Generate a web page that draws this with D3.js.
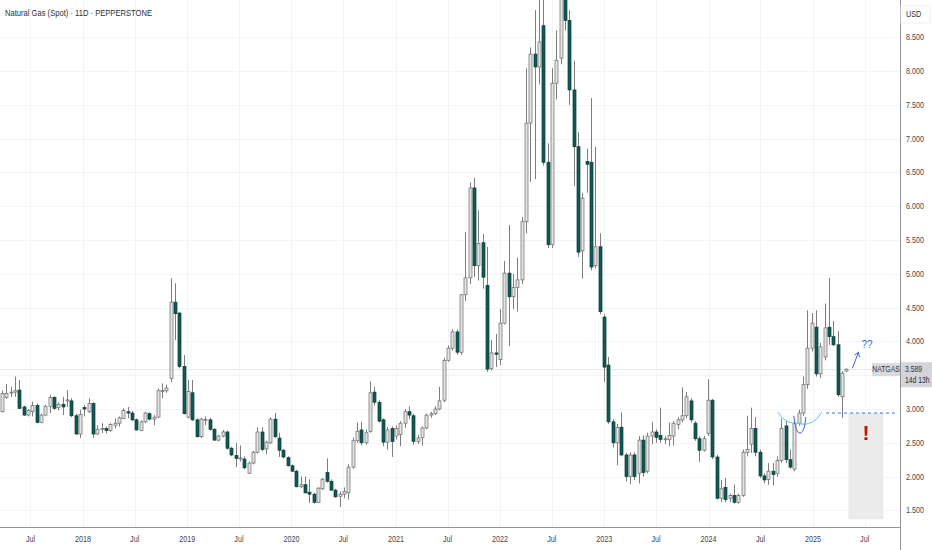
<!DOCTYPE html>
<html><head><meta charset="utf-8">
<script src="https://cdn.jsdelivr.net/npm/d3@7"></script>
<style>
html,body{margin:0;padding:0;background:#fff;}
svg{display:block;}
text{font-family:"Liberation Sans",Arial,sans-serif;}
</style></head>
<body>
<svg id="c" width="932" height="550"></svg>
<script>
// ---- DATA (11D candles, Natural Gas spot) ----
const title = "Natural Gas (Spot) · 11D · PEPPERSTONE";
const startDate = new Date(2017, 2, 23);
const stepDays = 15.17;
const open  = [2.96,3.17,3.24,3.25,3.28,3.03,2.91,2.96,3.05,2.80,2.91,3.04,3.17,3.02,3.07,3.13,3.12,2.90,2.63,3.02,2.96,3.08,2.63,2.70,2.71,2.68,2.76,2.79,2.86,2.96,2.94,2.84,2.68,2.81,2.93,2.85,2.88,3.27,3.27,3.45,4.58,4.42,3.63,2.88,3.24,2.84,2.59,2.84,2.84,2.70,2.54,2.60,2.66,2.42,2.31,2.27,2.26,2.05,2.20,2.36,2.66,2.41,2.50,2.85,2.57,2.39,2.28,2.16,2.08,1.85,1.88,1.77,1.74,1.62,1.82,2.06,1.93,1.80,1.71,1.74,1.76,2.14,2.53,2.69,2.50,2.67,3.25,3.10,2.84,2.51,2.71,2.60,2.62,2.79,2.96,2.90,2.52,2.58,2.72,2.91,2.93,3.00,3.13,3.72,3.90,4.14,3.84,4.69,4.94,6.27,5.12,5.46,4.83,3.60,3.83,3.73,4.27,5.01,4.66,4.80,4.91,5.77,7.23,8.25,8.06,8.67,6.65,5.43,7.82,8.19,9.40,8.75,7.72,6.88,5.34,6.66,6.65,5.12,5.40,4.36,3.65,2.81,2.50,2.73,2.32,2.00,2.32,2.05,2.54,2.08,2.60,2.66,2.61,2.55,2.55,2.60,2.77,2.84,2.90,3.12,2.79,2.56,2.39,2.64,3.13,2.29,1.68,1.84,1.68,1.72,1.62,1.72,2.36,2.48,2.71,2.36,2.01,1.96,2.08,2.05,2.24,2.75,2.25,2.11,2.79,2.94,3.36,3.90,4.21,3.52,3.77,4.21,4.07,3.95,3.18,3.56];
const high  = [3.27,3.37,3.33,3.48,3.43,3.05,3.00,3.11,3.08,2.93,3.06,3.21,3.19,3.10,3.18,3.28,3.16,2.93,2.99,3.06,3.16,3.10,2.76,2.79,2.74,2.79,2.86,2.89,3.01,3.03,2.97,2.86,2.83,2.96,2.95,2.91,3.30,3.38,3.36,4.93,4.86,4.43,3.80,3.43,3.43,2.86,2.87,2.89,2.87,2.72,2.62,2.69,2.68,2.44,2.50,2.46,2.30,2.22,2.38,2.73,2.73,2.53,2.88,2.94,2.65,2.41,2.30,2.18,2.10,2.00,2.00,1.96,1.76,1.84,1.98,2.27,1.96,1.82,1.78,1.84,2.18,2.58,2.80,2.81,2.70,3.41,3.33,3.13,2.86,2.73,2.74,2.76,2.82,3.00,3.04,2.93,2.62,2.74,2.93,2.96,3.04,3.33,3.76,3.94,4.18,4.18,4.70,5.62,6.35,6.42,5.94,5.59,5.40,4.02,4.11,4.48,5.19,5.72,5.00,5.24,5.84,8.04,8.35,8.90,9.40,9.30,6.93,8.04,8.60,9.90,9.95,8.90,8.15,7.10,6.20,6.85,7.60,6.88,5.60,4.40,3.77,2.85,2.78,2.95,2.35,2.36,2.36,2.60,2.61,2.65,2.81,2.70,3.02,2.60,2.80,2.82,2.88,3.32,3.25,3.16,2.82,2.60,2.60,3.44,3.15,2.32,1.95,1.98,1.75,1.88,1.75,2.40,2.90,3.02,2.88,2.40,2.05,2.20,2.20,2.30,2.86,2.83,2.40,2.83,2.99,3.48,4.46,4.42,4.46,3.98,4.56,4.94,4.30,4.15,3.56,3.60];
const low   = [2.95,3.15,3.18,3.18,3.00,2.90,2.89,2.89,2.79,2.79,2.90,2.94,2.99,2.98,2.91,3.03,2.88,2.62,2.57,2.89,2.94,2.57,2.62,2.64,2.64,2.66,2.71,2.74,2.85,2.86,2.82,2.68,2.67,2.79,2.83,2.76,2.87,3.16,3.24,3.40,4.02,3.60,2.92,2.86,2.82,2.58,2.57,2.76,2.68,2.53,2.52,2.58,2.40,2.30,2.14,2.22,2.11,2.04,2.18,2.34,2.38,2.33,2.48,2.57,2.29,2.27,2.15,2.07,1.84,1.83,1.75,1.61,1.60,1.61,1.80,1.91,1.79,1.69,1.55,1.68,1.66,2.12,2.50,2.46,2.47,2.65,3.05,2.80,2.45,2.40,2.29,2.55,2.45,2.72,2.85,2.47,2.48,2.46,2.70,2.87,2.91,2.98,3.10,3.70,3.86,3.80,3.80,4.60,4.85,4.95,4.90,4.78,3.55,3.57,3.62,3.65,4.25,3.93,4.48,4.44,4.85,5.60,6.36,6.40,7.80,6.60,5.38,5.38,7.58,8.10,8.60,7.50,6.30,5.25,4.93,6.20,5.05,5.08,4.40,3.40,2.78,2.43,2.17,2.30,1.93,1.89,1.95,1.90,2.00,2.05,2.48,2.50,2.50,2.48,2.45,2.46,2.70,2.80,2.86,2.80,2.53,2.22,2.37,2.60,2.26,1.66,1.62,1.62,1.62,1.60,1.60,1.70,2.30,2.35,2.30,1.98,1.90,1.88,1.87,2.00,2.20,2.20,2.12,2.08,2.75,2.90,3.30,3.85,3.48,3.46,3.72,3.95,3.93,3.18,2.87,3.55];
const close = [3.23,3.23,3.25,3.27,3.01,2.91,2.98,3.05,2.80,2.91,3.04,3.17,3.01,3.07,3.03,3.135,2.90,2.63,2.92,3.00,3.08,2.63,2.70,2.71,2.68,2.77,2.79,2.87,2.98,2.94,2.84,2.69,2.81,2.94,2.85,2.88,3.27,3.275,3.31,4.58,4.41,3.63,2.93,3.26,2.84,2.59,2.85,2.845,2.70,2.54,2.60,2.66,2.42,2.32,2.27,2.275,2.13,2.20,2.36,2.66,2.40,2.51,2.85,2.59,2.39,2.29,2.16,2.08,1.85,1.88,1.76,1.74,1.62,1.83,1.96,1.93,1.80,1.70,1.74,1.78,2.14,2.53,2.67,2.50,2.65,3.24,3.10,2.82,2.51,2.69,2.52,2.71,2.79,2.96,2.91,2.52,2.57,2.72,2.91,2.93,3.00,3.12,3.72,3.90,4.14,3.84,4.69,4.94,6.27,5.12,5.45,4.95,3.59,3.83,3.81,4.27,5.01,4.66,4.80,4.91,5.77,7.23,8.25,8.06,8.43,6.65,5.43,7.82,8.16,9.40,8.75,7.72,6.88,5.32,6.12,6.62,5.10,5.40,4.44,3.62,2.81,2.50,2.73,2.32,2.00,2.32,2.00,2.54,2.06,2.60,2.66,2.58,2.55,2.56,2.61,2.79,2.84,2.90,3.18,2.84,2.56,2.39,2.56,3.13,2.29,1.68,1.82,1.66,1.72,1.62,1.72,2.36,2.40,2.71,2.36,2.01,1.95,2.08,2.03,2.24,2.71,2.25,2.14,2.79,2.94,3.36,3.90,4.27,3.52,3.92,4.20,4.07,3.95,3.21,3.53,3.589];
const priceTicks = [1.5,2,2.5,3,3.5,4,4.5,5,5.5,6,6.5,7,7.5,8,8.5];
const timeTicks = [
  {d:[2017,6,1], t:"Jul"},{d:[2018,0,1], t:"2018"},{d:[2018,6,1], t:"Jul"},
  {d:[2019,0,1], t:"2019"},{d:[2019,6,1], t:"Jul"},{d:[2020,0,1], t:"2020"},
  {d:[2020,6,1], t:"Jul"},{d:[2021,0,1], t:"2021"},{d:[2021,6,1], t:"Jul"},
  {d:[2022,0,1], t:"2022"},{d:[2022,6,1], t:"Jul"},{d:[2023,0,1], t:"2023"},
  {d:[2023,6,1], t:"Jul"},{d:[2024,0,1], t:"2024"},{d:[2024,6,1], t:"Jul"},
  {d:[2025,0,1], t:"2025"},{d:[2025,6,1], t:"Jul"}];
const lastPrice = 3.589;
const countdown = "14d 13h";
const symbol = "NATGAS";
const supportLevel = 2.94;
const boxRange = [1.37, 2.94];

// ---- LAYOUT ----
const W = 932, H = 550, plotR = 900, plotB = 527;
const SX = 0.8; // narrow text like the reference
const svg = d3.select("#c");
const x = d3.scaleTime().domain([new Date(2018,0,1), new Date(2025,0,1)]).range([83, 813]);
const y = d3.scaleLinear().domain([1.5, 8.5]).range([510.4, 37.2]);
const dates = open.map((_, i) => new Date(startDate.getTime() + i * stepDays * 864e5));
const candles = open.map((o, i) => ({d: dates[i], o, h: high[i], l: low[i], c: close[i]}));

function label(g, tx, ty, str, size, color, anchor) {
  return g.append("text").attr("transform", `translate(${tx},${ty}) scale(${SX},1)`)
    .attr("font-size", size).attr("fill", color).attr("text-anchor", anchor || "start").text(str);
}

// grid
const grid = svg.append("g");
grid.selectAll("line.v").data(timeTicks).join("line")
  .attr("x1", d => Math.round(x(new Date(...d.d))) + 0.5).attr("x2", d => Math.round(x(new Date(...d.d))) + 0.5)
  .attr("y1", 0).attr("y2", plotB).attr("stroke", "#f3f4f6").attr("stroke-width", 1);
grid.selectAll("line.h").data(priceTicks).join("line")
  .attr("x1", 0).attr("x2", plotR)
  .attr("y1", d => Math.round(y(d)) + 0.5).attr("y2", d => Math.round(y(d)) + 0.5)
  .attr("stroke", "#f3f4f6").attr("stroke-width", 1);

// last price line
svg.append("line").attr("x1", 0).attr("x2", plotR)
  .attr("y1", Math.round(y(lastPrice)) + 0.5).attr("y2", Math.round(y(lastPrice)) + 0.5)
  .attr("stroke", "#e6e7ea").attr("stroke-width", 1);

// grey box annotation
const bx = x(dates[dates.length - 1]) + 2;
svg.append("rect").attr("x", bx).attr("y", y(boxRange[1]))
  .attr("width", 35).attr("height", y(boxRange[0]) - y(boxRange[1]))
  .attr("fill", "#ebebeb");

// clip
svg.append("clipPath").attr("id", "clip").append("rect")
  .attr("x", 0).attr("y", 0).attr("width", plotR).attr("height", plotB);
const cg = svg.append("g").attr("clip-path", "url(#clip)");

const cx = d => Math.round(x(d.d)) + 0.5;
cg.selectAll("line.w").data(candles).join("line")
  .attr("x1", cx).attr("x2", cx)
  .attr("y1", d => y(d.h)).attr("y2", d => y(d.l))
  .attr("stroke", "#7d7d7d").attr("stroke-width", 1);
cg.selectAll("rect.b").data(candles).join("rect")
  .attr("x", d => cx(d) - 1.5).attr("width", 3)
  .attr("y", d => y(Math.max(d.o, d.c)))
  .attr("height", d => Math.max(1, Math.abs(y(d.o) - y(d.c))))
  .attr("fill", d => d.c >= d.o ? "#e4e4e4" : "#0f5a55")
  .attr("stroke", d => d.c >= d.o ? "#6a6a6a" : "#0b3b38")
  .attr("stroke-width", 0.7);

// support dashed line
svg.append("line").attr("x1", 826).attr("x2", plotR - 2)
  .attr("y1", y(supportLevel)).attr("y2", y(supportLevel))
  .attr("stroke", "#3f6fd6").attr("stroke-width", 1).attr("stroke-dasharray", "3,3");

// bull horns drawing
const hx = x(dates[184]) + 1;
const hy = y(supportLevel);
svg.append("path").attr("d", `M${hx-22},${hy-1} Q${hx-14},${hy+13} ${hx+2},${hy+10}`)
  .attr("fill", "none").attr("stroke", "#5cd0e8").attr("stroke-width", 1);
svg.append("path").attr("d", `M${hx+22},${hy-1} Q${hx+15},${hy+13} ${hx-1},${hy+11}`)
  .attr("fill", "none").attr("stroke", "#5cd0e8").attr("stroke-width", 1);
svg.append("path").attr("d", `M${hx-6},${hy+3} Q${hx-4},${hy+22} ${hx+1},${hy+20} Q${hx+5},${hy+18} ${hx+6},${hy+4}`)
  .attr("fill", "none").attr("stroke", "#3f5fd8").attr("stroke-width", 1);

// arrow and ??
const ax = x(dates[dates.length - 1]) + 6;
svg.append("path").attr("d", `M${ax},${y(lastPrice)-1} Q${ax+3},${y(lastPrice)-9} ${ax+6},${y(lastPrice)-17}`)
  .attr("fill", "none").attr("stroke", "#3f5fd8").attr("stroke-width", 1);
svg.append("path").attr("d", `M${ax+2},${y(lastPrice)-14} L${ax+6},${y(lastPrice)-17} L${ax+7},${y(lastPrice)-12}`)
  .attr("fill", "none").attr("stroke", "#3f5fd8").attr("stroke-width", 1);
svg.append("text").attr("x", ax + 9).attr("y", y(lastPrice) - 21).text("??")
  .attr("font-size", 10).attr("fill", "#3f5fd8");

// red exclamation
svg.append("text").attr("x", bx + 17.5).attr("y", 440).attr("text-anchor", "middle")
  .attr("font-size", 21).attr("font-weight", "bold").attr("fill", "#b3122a").text("!");

// axes lines
svg.append("line").attr("x1", 0).attr("x2", plotR).attr("y1", plotB + 0.5).attr("y2", plotB + 0.5)
  .attr("stroke", "#8f9297").attr("stroke-width", 1);
svg.append("line").attr("x1", plotR + 0.5).attr("x2", plotR + 0.5).attr("y1", 0).attr("y2", H)
  .attr("stroke", "#8f9297").attr("stroke-width", 1);

// bottom axis labels
const bg = svg.append("g");
timeTicks.forEach(d => label(bg, x(new Date(...d.d)), 542, d.t, 9, "#434651", "middle"));

// right axis labels (a tick hidden under the last-price label is skipped, as on the original)
const fmt = d3.format(".3f");
const rg = svg.append("g");
const py = y(lastPrice);
priceTicks.filter(d => Math.abs(y(d) - (py + 5)) > 14)
  .forEach(d => label(rg, 906, y(d) + 3, fmt(d), 9, "#434651"));

// USD
svg.append("rect").attr("x", 901).attr("y", 6).attr("width", 29).attr("height", 17)
  .attr("fill", "#fff").attr("stroke", "#f0f0f0");
label(svg, 906, 17, "USD", 9, "#2a2e39");

// price label on axis
svg.append("rect").attr("x", plotR + 1).attr("y", py - 7).attr("width", W - plotR - 1).attr("height", 25)
  .attr("fill", "#d3d5da");
label(svg, 905, py + 2.5, fmt(lastPrice), 8.5, "#2a2e39");
label(svg, 905, py + 14, countdown, 8.5, "#2a2e39");

// symbol label
svg.append("rect").attr("x", 872).attr("y", py - 6).attr("width", 28).attr("height", 13)
  .attr("fill", "#d9dadd");
label(svg, 886, py + 3, symbol, 8.5, "#2a2e39", "middle");

// title
label(svg, 5, 16, title, 9.5, "#2a2e39");
</script>
</body></html>
